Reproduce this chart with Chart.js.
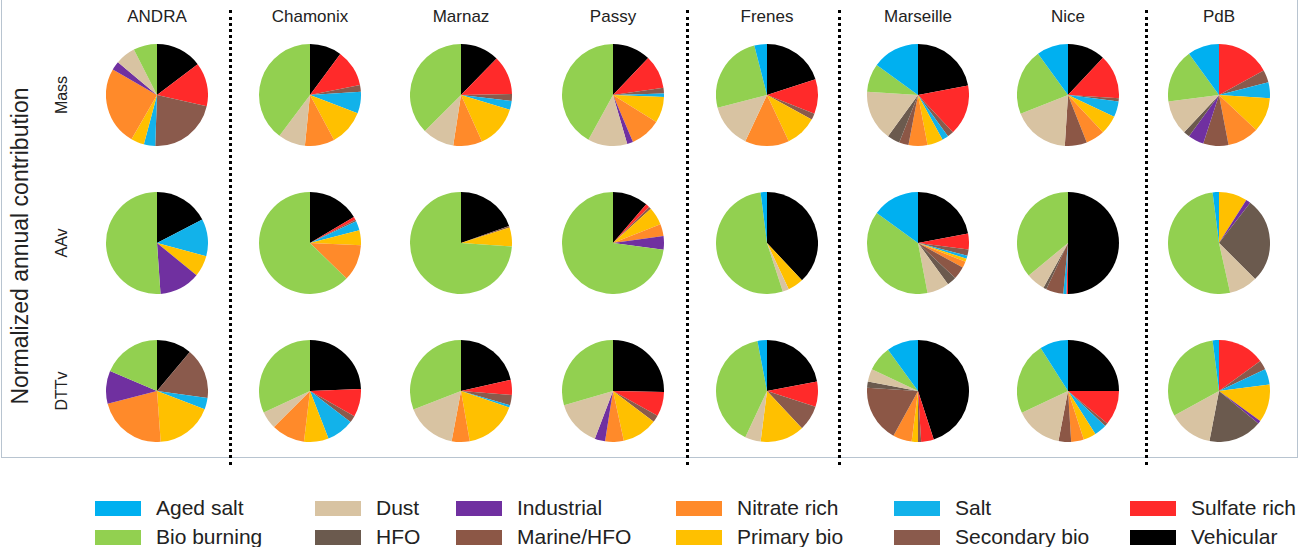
<!DOCTYPE html>
<html>
<head>
<meta charset="utf-8">
<script src="https://cdn.jsdelivr.net/npm/chart.js@4"></script>
<style>
  body { margin: 0; background: #fff; font-family: "Liberation Sans", Arial, sans-serif; }
  #page { position: relative; width: 1298px; height: 547px; overflow: hidden; }
  .frame { position: absolute; left: 1px; top: -2px; width: 1295px; height: 458px; border: 1px solid #b8c4d0; }
  .pie { position: absolute; width: 102px; height: 102px; }
  .site { position: absolute; top: 7px; font-size: 17px; color: #222; transform: translateX(-50%); white-space: nowrap; }
  .row { position: absolute; left: 62px; font-size: 16px; color: #222; transform: translate(-50%, -50%) rotate(-90deg); white-space: nowrap; }
  .ytitle { position: absolute; left: 20px; top: 246px; font-size: 23px; color: #222; transform: translate(-50%, -50%) rotate(-90deg); white-space: nowrap; }
  .sep { position: absolute; top: 10px; height: 455px; border-left: 3px dotted #000; }
  .leg { position: absolute; font-size: 21px; color: #222; white-space: nowrap; }
  .leg span { position: absolute; left: 0; top: 3px; width: 46px; height: 15px; }
  .leg b { font-weight: normal; position: absolute; left: 61px; top: -2px; }
</style>
</head>
<body>
<div id="page">
  <div class="frame"></div>
  <div class="ytitle">Normalized annual contribution</div>
</div>
<script>
// sources in legend order
const sources = ['Aged salt', 'Bio burning', 'Dust', 'HFO', 'Industrial', 'Marine/HFO',
                 'Nitrate rich', 'Primary bio', 'Salt', 'Secondary bio', 'Sulfate rich', 'Vehicular'];
const colors = ['#00b0f0', '#92d050', '#d8c3a2', '#6b5a4e', '#7030a0', '#8c5746',
                '#ff8a2a', '#ffc000', '#12b2ea', '#8a5a4c', '#ff2a2a', '#000000'];
const sites = ['ANDRA', 'Chamonix', 'Marnaz', 'Passy', 'Frenes', 'Marseille', 'Nice', 'PdB'];
const metrics = ['Mass', 'AAv', 'DTTv'];

// annual contributions (%) in legend order
const andraMass      = [0, 7.5, 6.4, 0, 2.8, 0, 25, 4.2, 3.6, 22, 13.9, 14.7];
const andraAAv       = [0, 51.1, 0, 0, 13, 0, 0, 6.7, 11.8, 0, 0, 17.4];
const andraDTTv      = [0, 18.6, 0, 0, 10.4, 0, 22.1, 18, 3.6, 16.1, 0, 11.1];
const chamonixMass   = [0, 39.7, 8.6, 0, 0, 0, 9.4, 11.3, 6.9, 2.1, 11.7, 10.1];
const chamonixAAv    = [0, 62.7, 0, 0, 0, 0, 11.6, 4.7, 3, 0.5, 1, 16.5];
const chamonixDTTv   = [0, 31.9, 5.6, 0, 0, 0, 10.6, 7.8, 8.7, 2.2, 8.8, 24.4];
const marnazMass     = [0, 37.5, 10.1, 0, 0, 0, 9.2, 13.6, 2.8, 2.2, 12.4, 12.3];
const marnazAAv      = [0, 73.9, 0, 0, 0, 0, 0, 6, 0, 0.5, 0, 19.6];
const marnazDTTv     = [0, 30.9, 16.2, 0, 0, 0, 5.7, 17, 0.8, 3.2, 4.8, 21.5];
const passyMass      = [0, 42, 12.5, 0, 1.9, 0, 9.7, 8.3, 1.1, 1.8, 10.6, 12.1];
const passyAAv       = [0, 72.9, 0, 0, 4.3, 0, 3.8, 5.7, 0, 0.8, 1.2, 11.3];
const passyDTTv      = [0, 29.5, 14.7, 0, 3.3, 0, 5.9, 11.3, 0, 2.2, 7.8, 25.3];
const frenesMass     = [4, 25, 14, 0, 0, 0, 14, 10, 0, 2, 11, 20];
const frenesAAv      = [2, 53, 2, 0, 0, 0, 0, 5, 0, 0, 0, 38];
const frenesDTTv     = [3, 40, 5, 0, 0, 0, 0, 14, 0, 8, 8, 22];
const marseilleMass  = [15, 9, 16, 4, 0, 3, 6, 5, 2, 2, 16, 22];
const marseilleAAv   = [15, 38, 7, 3, 0, 4, 2, 1, 1, 2, 5, 22];
const marseilleDTTv  = [10, 8, 4, 2, 0, 18, 6, 2, 0, 1, 4, 45];
const niceMass       = [10, 21, 18, 0, 0, 7, 6, 6, 5, 1, 14, 12];
const niceAAv        = [0, 36, 6, 1, 0, 5.5, 0, 0, 1, 0, 0.5, 50];
const niceDTTv       = [9, 23, 15, 0, 0, 4, 4, 4, 4, 1, 11, 25];
const pdbMass        = [10, 17, 11, 2, 5, 8, 10, 11, 5, 4, 17, 0];
const pdbAAv         = [2, 51.5, 9, 27, 1.5, 0, 0, 9, 0, 0, 0, 0];
const pdbDTTv        = [2, 31, 14, 17, 1, 0, 0, 12, 5, 3, 15, 0];

const grid = [
  [andraMass, chamonixMass, marnazMass, passyMass, frenesMass, marseilleMass, niceMass, pdbMass],
  [andraAAv, chamonixAAv, marnazAAv, passyAAv, frenesAAv, marseilleAAv, niceAAv, pdbAAv],
  [andraDTTv, chamonixDTTv, marnazDTTv, passyDTTv, frenesDTTv, marseilleDTTv, niceDTTv, pdbDTTv]
];

const page = document.getElementById('page');
const colX = [157, 310, 461, 613, 767, 918, 1068, 1219];
const rowY = [95, 243, 391];

function add(cls, css, text) {
  const d = document.createElement('div');
  d.className = cls;
  Object.assign(d.style, css);
  if (text) d.textContent = text;
  page.appendChild(d);
  return d;
}

sites.forEach((s, i) => add('site', { left: colX[i] + 'px' }, s));
metrics.forEach((m, j) => add('row', { top: rowY[j] + 'px' }, m));
[229, 686, 838, 1145].forEach(x => add('sep', { left: x + 'px' }));

// pies go clockwise from 12 o'clock in reverse legend order
grid.forEach((row, j) => {
  row.forEach((vals, i) => {
    const box = add('pie', { left: (colX[i] - 51) + 'px', top: (rowY[j] - 51) + 'px' });
    const cv = document.createElement('canvas');
    cv.width = 102; cv.height = 102;
    box.appendChild(cv);
    new Chart(cv.getContext('2d'), {
      type: 'pie',
      data: {
        labels: sources.slice().reverse(),
        datasets: [{
          data: vals.slice().reverse(),
          backgroundColor: colors.slice().reverse(),
          borderWidth: 0
        }]
      },
      options: {
        responsive: false,
        animation: false,
        layout: { padding: 0 },
        plugins: { legend: { display: false }, tooltip: { enabled: false } }
      }
    });
  });
});

// legend, column-major in two rows
const legX = [95, 315, 456, 676, 894, 1130];
const legY = [498, 527];
sources.forEach((s, k) => {
  const c = Math.floor(k / 2), r = k % 2;
  const el = add('leg', { left: legX[c] + 'px', top: legY[r] + 'px' });
  const sw = document.createElement('span');
  sw.style.background = colors[k];
  const t = document.createElement('b');
  t.textContent = s;
  el.appendChild(sw); el.appendChild(t);
});
</script>
</body>
</html>
